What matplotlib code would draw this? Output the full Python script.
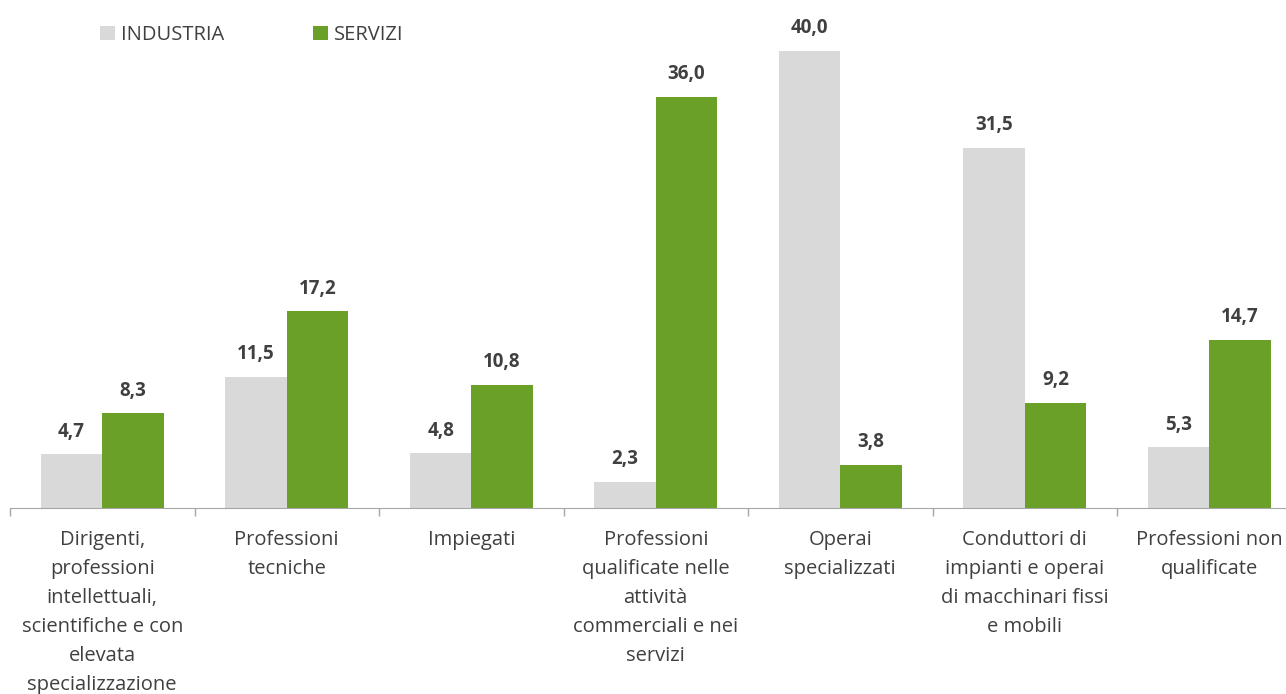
import numpy as np
import matplotlib.pyplot as plt

plt.rcParams['font.family'] = ['Open Sans', 'DejaVu Sans']

categories = ["Dirigenti,\nprofessioni\nintellettuali,\nscientifiche e con\nelevata\nspecializzazione",
              "Professioni\ntecniche",
              "Impiegati",
              "Professioni\nqualificate nelle\nattività\ncommerciali e nei\nservizi",
              "Operai\nspecializzati",
              "Conduttori di\nimpianti e operai\ndi macchinari fissi\ne mobili",
              "Professioni non\nqualificate"]
industria = [4.7, 11.5, 4.8, 2.3, 40.0, 31.5, 5.3]
servizi = [8.3, 17.2, 10.8, 36.0, 3.8, 9.2, 14.7]

grey = "#D9D9D9"
green = "#6A9F28"
text_col = "#404040"

W, H = 1286, 694
fig = plt.figure(figsize=(W / 100, H / 100), dpi=100)
ymax = 44
px_per_unit = 11.43
left, base, cat_w = 10, 508, 184.5
ax = fig.add_axes([left / W, (H - base) / H, 7 * cat_w / W, ymax * px_per_unit / H])

x = np.arange(len(categories)) + 0.5
w = 0.332
b1 = ax.bar(x - w / 2, industria, w, color=grey, label="INDUSTRIA")
b2 = ax.bar(x + w / 2, servizi, w, color=green, label="SERVIZI")

for bars, vals in [(b1, industria), (b2, servizi)]:
    for r, v in zip(bars, vals):
        ax.annotate(f"{v:.1f}".replace(".", ","), (r.get_x() + r.get_width() / 2, v),
                    xytext=(0, 9), textcoords="offset points", ha="center", va="bottom",
                    fontsize=13.5, fontweight="bold", color=text_col)

ax.set_xlim(0, 7)
ax.set_ylim(0, ymax)
ax.set_yticks([])
ax.set_xticks(np.arange(8))
ax.set_xticklabels([])
ax.set_xticks(x, minor=True)
ax.set_xticklabels(categories, minor=True, fontsize=14.5, color=text_col, linespacing=1.6)
ax.tick_params(axis="x", which="major", length=6, color="#A6A6A6", width=1)
ax.tick_params(axis="x", which="minor", length=0, pad=16)
for s in ["top", "right", "left"]:
    ax.spines[s].set_visible(False)
ax.spines["bottom"].set_color("#A6A6A6")

fig.legend(handles=[b1, b2], loc="upper left", bbox_to_anchor=(82 / W, 1 - 7 / H), ncol=2,
           frameon=False, fontsize=14.5, handlelength=0.75, handleheight=0.75, handletextpad=0.3,
           columnspacing=4.4, labelcolor=text_col)

fig.savefig("out.png", dpi=100)
